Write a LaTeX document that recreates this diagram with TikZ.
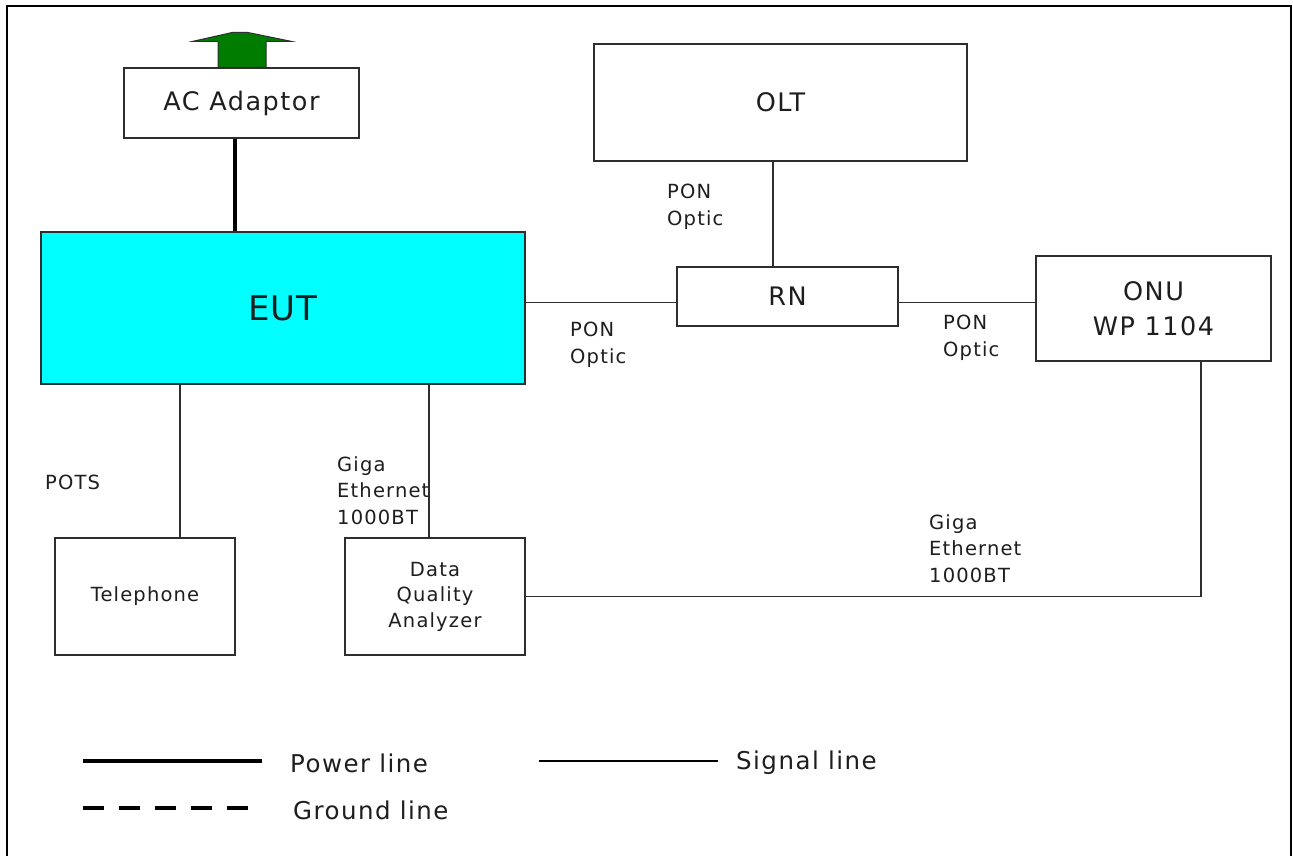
\documentclass[tikz,border=0pt]{standalone}
\usepackage{fontspec}
\newfontfamily\gul[LetterSpace=6]{DejaVu Sans}
\newfontfamily\gulplain[LetterSpace=3]{DejaVu Sans}
\definecolor{boxgray}{HTML}{2E2E2E}
\definecolor{txt}{HTML}{1E1E1E}
\definecolor{eutcyan}{HTML}{00FFFF}
\definecolor{arrgreen}{HTML}{007D00}
\begin{document}
\begin{tikzpicture}[x=1pt,y=-1pt,
  box/.style={draw=boxgray, line width=1.4pt, inner sep=0pt, rectangle, text=txt},
  sig/.style={draw=boxgray, line width=1.4pt},
  pow/.style={draw=black, line width=4pt},
  big/.style={font=\gul\fontsize{25.5}{35}\selectfont, align=center},
  mid/.style={font=\gul\fontsize{19.5}{25.5}\selectfont, align=center},
  small/.style={font=\gul\fontsize{19.5}{26.5}\selectfont, align=left, inner sep=0pt, anchor=north west, text=txt},
  leg/.style={font=\gul\fontsize{24.5}{28}\selectfont, inner sep=0pt, anchor=west, text=txt}]
\useasboundingbox (0,0) rectangle (1293,855);
\fill[white] (0,0) rectangle (1293,855);
% frame
\draw[black, line width=2.5pt] (7,870) -- (7,6) -- (1291,6) -- (1291,870);

% boxes
\node[box, minimum width=235pt, minimum height=70pt, big] (ac) at (241.5,103) {AC Adaptor};
\node[box, fill=eutcyan, minimum width=484pt, minimum height=152pt, font=\gulplain\fontsize{34}{40}\selectfont] (eut) at (283,308) {EUT};
\node[box, minimum width=373pt, minimum height=117pt, big] (olt) at (780.5,102.5) {OLT};
\node[box, minimum width=221pt, minimum height=59pt, big] (rn) at (787.5,296.5) {RN};
\node[box, minimum width=235pt, minimum height=105pt, big] (onu) at (1153.5,308.5) {ONU\\WP 1104};
\node[box, minimum width=180pt, minimum height=117pt, mid] (tel) at (145,596.5) {Telephone};
\node[box, minimum width=180pt, minimum height=117pt, mid] (dqa) at (435,596.5) {Data\\Quality\\Analyzer};

% green arrow on top of AC adaptor
\draw[fill=arrgreen, draw=boxgray, line width=1pt]
  ([xshift=-23.5pt]ac.north) -- ++(0,-26) -- ++(-25,0) -- ++(40,-9) -- ++(14,0)
  -- ++(44,9) -- ++(-25,0) -- ([xshift=24.5pt]ac.north) -- cycle;

% power line
\draw[pow] ([xshift=-6.5pt]ac.south) -- ([xshift=-6.5pt]ac.south |- eut.north);

% signal lines
\draw[sig] ([xshift=-7.5pt]olt.south) -- ([xshift=-7.5pt]olt.south |- rn.north);
\draw[sig] ([yshift=-6pt]rn.west) -- ([yshift=-6pt]rn.west -| eut.east);
\draw[sig] ([yshift=-6pt]rn.east) -- ([yshift=-6pt]rn.east -| onu.west);
\draw[sig] ([xshift=35pt]tel.north) -- ([xshift=35pt]tel.north |- eut.south);
\draw[sig] ([xshift=-6pt]dqa.north) -- ([xshift=-6pt]dqa.north |- eut.south);
\draw[sig] (dqa.east) -| ([xshift=47.5pt]onu.south);

% labels
\node[small] (l1) at (667,184) {PON\\Optic};
\node[small] (l2) at (570,322) {PON\\Optic};
\node[small] (l3) at (943,315) {PON\\Optic};
\node[small] (l4) at (45,475) {POTS};
\node[small] (l5) at (337,456) {Giga\\Ethernet\\1000BT};
\node[small] (l6) at (929,514) {Giga\\Ethernet\\1000BT};

% legend
\coordinate (p1) at (83,761); \coordinate (p2) at (262,761);
\coordinate (s1) at (539,761); \coordinate (s2) at (718,761);
\coordinate (g1) at (83,808); \coordinate (g2) at (250,808);
\draw[pow] (p1) -- (p2);
\draw[draw=black, line width=1.2pt] (s1) -- (s2);
\draw[draw=black, line width=4pt, dash pattern=on 21pt off 15pt] (g1) -- (g2);
\node[leg] (t1) at (290,763) {Power line};
\node[leg] (t2) at (736,763) {Signal line};
\node[leg] (t3) at (293,810) {Ground line};
\end{tikzpicture}
\end{document}
